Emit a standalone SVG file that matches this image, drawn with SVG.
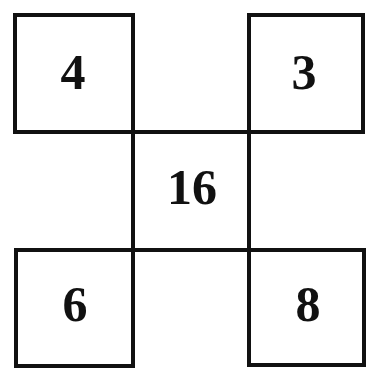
<svg xmlns="http://www.w3.org/2000/svg" width="370" height="370" viewBox="0 0 370 370">
<style>
.box{fill:none;stroke:#111;stroke-width:4}
.num{font-family:"Liberation Serif","Times New Roman",serif;font-weight:bold;font-size:50px;fill:#111;text-anchor:middle}
</style>
<rect width="370" height="370" fill="#fff"/>
<g id="n4"><rect class="box" x="15" y="15" width="118" height="117"/><text class="num" x="73" y="89">4</text></g>
<g id="n3"><rect class="box" x="249" y="15" width="114" height="117"/><text class="num" x="304" y="89">3</text></g>
<g id="n16"><rect class="box" x="133" y="132" width="116" height="118"/><text class="num" x="192" y="204">16</text></g>
<g id="n6"><rect class="box" x="16" y="250" width="117" height="116"/><text class="num" x="75" y="321">6</text></g>
<g id="n8"><rect class="box" x="249" y="250" width="115" height="115"/><text class="num" x="308" y="321">8</text></g>
</svg>
